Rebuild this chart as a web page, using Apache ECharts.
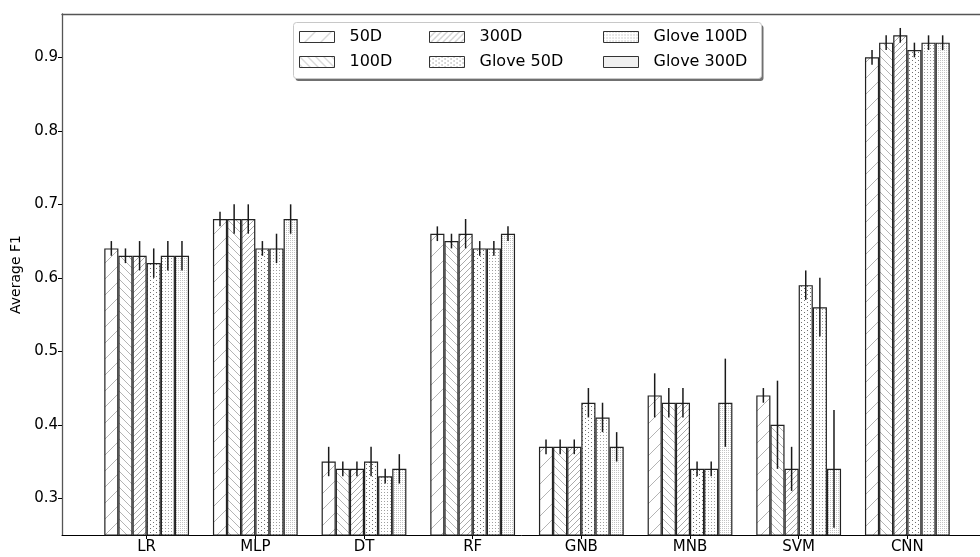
<!DOCTYPE html>
<html>
<head>
<meta charset="utf-8">
<script src="https://cdn.jsdelivr.net/npm/echarts@6/dist/echarts.min.js"></script>
<style>
  html, body { margin: 0; padding: 0; background: #fff; }
  #chart { width: 980px; height: 557px; }
</style>
</head>
<body>
<div id="chart"></div>
<script>
// Classifiers on the x axis
const categories = ['LR', 'MLP', 'DT', 'RF', 'GNB', 'MNB', 'SVM', 'CNN'];

// Embedding variants (legend order)
const seriesNames = ['50D', '100D', '300D', 'Glove 50D', 'Glove 100D', 'Glove 300D'];

// Mean F1 per classifier for each embedding
const f1_50d       = [0.64, 0.68, 0.35, 0.66, 0.37, 0.44, 0.44, 0.90];
const f1_100d      = [0.63, 0.68, 0.34, 0.65, 0.37, 0.43, 0.40, 0.92];
const f1_300d      = [0.63, 0.68, 0.34, 0.66, 0.37, 0.43, 0.34, 0.93];
const f1_glove50d  = [0.62, 0.64, 0.35, 0.64, 0.43, 0.34, 0.59, 0.91];
const f1_glove100d = [0.63, 0.64, 0.33, 0.64, 0.41, 0.34, 0.56, 0.92];
const f1_glove300d = [0.63, 0.68, 0.34, 0.66, 0.37, 0.43, 0.34, 0.92];

// Standard deviation (error bar half-length)
const err_50d       = [0.01, 0.01, 0.02, 0.01, 0.01, 0.03, 0.01, 0.01];
const err_100d      = [0.01, 0.02, 0.01, 0.01, 0.01, 0.02, 0.06, 0.01];
const err_300d      = [0.02, 0.02, 0.01, 0.02, 0.01, 0.02, 0.03, 0.01];
const err_glove50d  = [0.02, 0.01, 0.02, 0.01, 0.02, 0.01, 0.02, 0.01];
const err_glove100d = [0.02, 0.02, 0.01, 0.01, 0.02, 0.01, 0.04, 0.01];
const err_glove300d = [0.02, 0.02, 0.02, 0.01, 0.02, 0.06, 0.08, 0.01];

// Y tick labels
const yTicks = [0.3, 0.4, 0.5, 0.6, 0.7, 0.8, 0.9];

const values = [f1_50d, f1_100d, f1_300d, f1_glove50d, f1_glove100d, f1_glove300d];
const errors = [err_50d, err_100d, err_300d, err_glove50d, err_glove100d, err_glove300d];

// ---- layout constants ----
const X_MIN = -0.779, X_MAX = 7.779;      // x range in category units
const Y_MIN = 0.25, Y_MAX = 0.959;
const GRID = { left: 62, right: -12, top: 14, bottom: 22 };
const BAR_UNIT = 0.13;                    // bar width in category units
const PLOT_W = 980 - GRID.left - GRID.right;
const BAR_PX = BAR_UNIT * PLOT_W / (X_MAX - X_MIN);
const FONT = 'DejaVu Sans';
const HATCH = '#b4b4b4';

// ---- hatch / dot fill patterns ----
function diagonal(size, dir, color, lw) {
  const c = document.createElement('canvas');
  c.width = size; c.height = size;
  const g = c.getContext('2d');
  g.fillStyle = '#fff';
  g.fillRect(0, 0, size, size);
  g.strokeStyle = color;
  g.lineWidth = lw;
  g.beginPath();
  for (const o of [-size, 0, size]) {
    if (dir > 0) { g.moveTo(o, size); g.lineTo(o + size, 0); }
    else { g.moveTo(o, 0); g.lineTo(o + size, size); }
  }
  g.stroke();
  return c;
}
function dots(w, h, color, stagger) {
  const c = document.createElement('canvas');
  c.width = w; c.height = h;
  const g = c.getContext('2d');
  g.fillStyle = '#fff';
  g.fillRect(0, 0, w, h);
  g.fillStyle = color;
  g.fillRect(0, 0, 1, 1);
  if (stagger) g.fillRect(Math.floor(w / 2), Math.floor(h / 2), 1, 1);
  return c;
}
const fills = [
  diagonal(16, 1, HATCH, 1),
  diagonal(8, -1, HATCH, 1),
  diagonal(6, 1, '#aaaaaa', 1),
  dots(6, 4, '#707070', true),
  dots(3, 3, '#a0a0a0', false),
  dots(2, 2, '#c4c4c4', false)
].map(c => ({ image: c, repeat: 'repeat' }));

const barSeries = seriesNames.map((name, k) => ({
  type: 'bar',
  name: name,
  xAxisIndex: 0,
  yAxisIndex: 0,
  barWidth: BAR_PX,
  barGap: '0%',
  data: categories.map((c, i) => [i, values[k][i]]),
  itemStyle: { color: fills[k], borderColor: '#222', borderWidth: 1.2 },
  emphasis: { disabled: true },
  z: 2
}));

const errData = [];
seriesNames.forEach((name, k) => {
  categories.forEach((c, i) => errData.push([i, k, values[k][i], errors[k][i]]));
});

const errorSeries = {
  type: 'custom',
  name: 'std',
  xAxisIndex: 0,
  yAxisIndex: 0,
  z: 5,
  silent: true,
  data: errData,
  encode: { x: 0, y: 2 },
  renderItem: function (params, api) {
    const i = api.value(0), k = api.value(1), v = api.value(2), e = api.value(3);
    const top = api.coord([i, v + e]);
    const bot = api.coord([i, v - e]);
    const bw = api.size([BAR_UNIT, 0])[0];
    const x = top[0] + (k - 2.5) * bw;
    return {
      type: 'line',
      shape: { x1: x, y1: top[1], x2: x, y2: bot[1] },
      style: { stroke: '#1a1a1a', lineWidth: 1.5 }
    };
  }
};

// legend: three columns of two entries each
const legendCols = [[0, 1], [2, 3], [4, 5]];
const legendLeft = [299, 429, 603];
const legends = legendCols.map((col, c) => ({
  orient: 'vertical',
  left: legendLeft[c],
  top: 29,
  padding: 0,
  itemGap: 9,
  itemWidth: 35,
  itemHeight: 11,
  icon: 'rect',
  z: 10,
  selectedMode: false,
  data: col.map(k => seriesNames[k]),
  itemStyle: { borderColor: '#333', borderWidth: 1 },
  textStyle: { fontFamily: FONT, fontSize: 16, color: '#000', lineHeight: 16, padding: [0, 0, 0, 10] }
}));

const chart = echarts.init(document.getElementById('chart'), null, { renderer: 'canvas' });
chart.setOption({
  animation: false,
  backgroundColor: '#fff',
  grid: Object.assign({ containLabel: false, outerBoundsMode: 'none' }, GRID),
  legend: legends,
  graphic: [
    { type: 'rect', z: 7, shape: { x: 295.5, y: 25, width: 468, height: 56, r: 3 },
      style: { fill: '#707070' } },
    { type: 'rect', z: 8, shape: { x: 293.5, y: 22.5, width: 468, height: 56, r: 3 },
      style: { fill: '#fff', stroke: '#c8c8c8', lineWidth: 1 } }
  ],
  xAxis: [{
    type: 'value',
    min: X_MIN,
    max: X_MAX,
    position: 'bottom',
    splitLine: { show: false },
    axisLine: { show: true, onZero: false, lineStyle: { color: '#000', width: 1 } },
    axisTick: { show: true, length: 4, lineStyle: { color: '#000', width: 1 },
      customValues: categories.map((c, i) => i) },
    axisLabel: { show: true, margin: 5, fontFamily: FONT, fontSize: 15, color: '#000',
      customValues: categories.map((c, i) => i),
      formatter: v => categories[Math.round(v)] }
  }, {
    type: 'value',
    min: X_MIN,
    max: X_MAX,
    position: 'top',
    splitLine: { show: false },
    axisLine: { show: true, onZero: false, lineStyle: { color: '#555', width: 1.3 } },
    axisTick: { show: false },
    axisLabel: { show: false }
  }],
  yAxis: {
    type: 'value',
    min: Y_MIN,
    max: Y_MAX,
    name: 'Average F1',
    nameLocation: 'middle',
    nameGap: 32,
    nameTextStyle: { fontFamily: FONT, fontSize: 14, color: '#000' },
    splitLine: { show: false },
    axisLine: { show: true, onZero: false, lineStyle: { color: '#555', width: 1.3 } },
    axisTick: { show: true, length: 4, lineStyle: { color: '#000', width: 1 },
      customValues: yTicks },
    axisLabel: { show: true, margin: 4, fontFamily: FONT, fontSize: 15, color: '#000',
      customValues: yTicks,
      formatter: v => v.toFixed(1) }
  },
  series: barSeries.concat([errorSeries])
});
</script>
</body>
</html>
